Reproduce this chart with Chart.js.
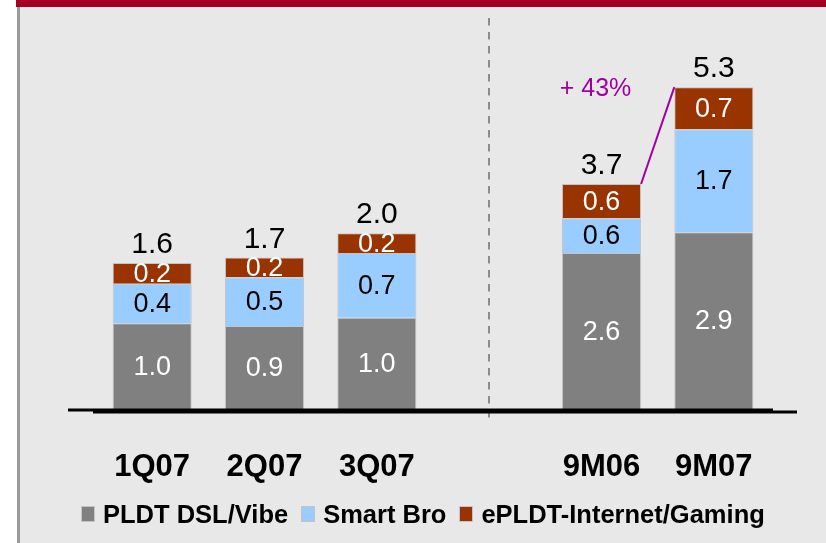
<!DOCTYPE html>
<html>
<head>
<meta charset="utf-8">
<script src="https://cdn.jsdelivr.net/npm/chart.js@4.4.0/dist/chart.umd.min.js"></script>
<style>
  html, body { margin: 0; padding: 0; background: #fff; }
  #wrap { position: relative; width: 826px; height: 543px; overflow: hidden; }
  #panel { position: absolute; left: 17px; top: 7px; right: 0; bottom: 0; background: #e8e8e8; border-left: 3px solid #9a9a9a; }
  #band { position: absolute; left: 16px; top: 0; width: 810px; height: 7px; background: #a50021; }
  #chart { position: absolute; left: 0; top: 0; }
  #legend { position: absolute; left: 81px; top: 499px; height: 30px; display: flex; align-items: center;
            font: bold 25.5px "Liberation Sans", Arial, Helvetica, sans-serif; color: #000; white-space: nowrap; }
  #legend .item { display: flex; align-items: center; margin-right: 13px; }
  #legend .box { width: 14px; height: 16px; box-sizing: border-box; border: 1px solid #c4c4c4; margin-right: 8px; }
</style>
</head>
<body>
<div id="wrap">
  <div id="panel"></div>
  <div id="band"></div>
  <canvas id="chart" width="826" height="543"></canvas>
  <div id="legend"></div>
</div>
<script>
const FONT = '"Liberation Sans", Arial, Helvetica, sans-serif';

// columns; the blank one is the gap with the dashed divider
const categories = ['1Q07', '2Q07', '3Q07', '', '9M06', '9M07'];
// quarters and 9-month columns are drawn against different scales
const columnAxis = ['yq', 'yq', 'yq', null, 'ym', 'ym'];

const seriesNames = ['PLDT DSL/Vibe', 'Smart Bro', 'ePLDT-Internet/Gaming'];
const dslVibe = [0.96, 0.93, 1.02, null, 2.57, 2.91];
const smartBro = [0.44, 0.54, 0.72, null, 0.57, 1.69];
const internetGaming = [0.23, 0.22, 0.22, null, 0.56, 0.69];

const seriesColors = ['#808080', '#99ccff', '#993300'];
const labelColors = ['#ffffff', '#000000', '#ffffff'];

const seriesValues = [dslVibe, smartBro, internetGaming];
const totals = categories.map((c, i) =>
  columnAxis[i] ? seriesValues.reduce((s, vals) => s + vals[i], 0) : null);

const datasets = [];
['yq', 'ym'].forEach(axisId => {
  seriesValues.forEach((vals, s) => {
    datasets.push({
      label: seriesNames[s],
      data: vals.map((v, i) => columnAxis[i] === axisId ? v : null),
      yAxisID: axisId,
      backgroundColor: seriesColors[s],
      borderColor: '#c4c4c4',
      borderWidth: 1,
      barPercentage: 0.704,
      categoryPercentage: 1,
      seriesIndex: s
    });
  });
});

// legend (one entry per series)
document.getElementById('legend').innerHTML = seriesNames.map((name, s) => `
  <div class="item"><span class="box" style="background:${seriesColors[s]}"></span>${name}</div>
`).join('');

// last dataset on each axis = top segment
function topMeta(chart, axisId) {
  let idx = -1;
  chart.data.datasets.forEach((ds, d) => { if (ds.yAxisID === axisId) idx = d; });
  return chart.getDatasetMeta(idx);
}

const decorPlugin = {
  id: 'decor',
  afterDatasetsDraw(chart) {
    const ctx = chart.ctx;
    const area = chart.chartArea;
    const xs = chart.scales.x;
    const base = chart.scales.yq.getPixelForValue(0);

    ctx.save();
    // dashed divider in the empty column
    const gapIdx = columnAxis.indexOf(null);
    const gx = Math.round(xs.getPixelForValue(gapIdx));
    ctx.strokeStyle = '#8c8c8c';
    ctx.lineWidth = 2;
    ctx.setLineDash([7.5, 6.5]);
    ctx.beginPath();
    ctx.moveTo(gx, area.top - 32);
    ctx.lineTo(gx, base + 8);
    ctx.stroke();
    ctx.setLineDash([]);

    // baseline (two offset strokes as in the original)
    ctx.strokeStyle = '#000';
    ctx.lineWidth = 3;
    ctx.beginPath();
    ctx.moveTo(area.left - 28, base + 0.5);
    ctx.lineTo(area.right + 3, base + 0.5);
    ctx.stroke();
    ctx.beginPath();
    ctx.moveTo(area.left - 3, base + 2.5);
    ctx.lineTo(area.right + 27, base + 2.5);
    ctx.stroke();

    // segment values
    ctx.textAlign = 'center';
    ctx.textBaseline = 'middle';
    ctx.font = '27px ' + FONT;
    chart.data.datasets.forEach((ds, d) => {
      chart.getDatasetMeta(d).data.forEach((bar, i) => {
        const v = ds.data[i];
        if (v == null) return;
        ctx.fillStyle = labelColors[ds.seriesIndex];
        ctx.fillText(v.toFixed(1), bar.x, (bar.y + bar.base) / 2 + 1);
      });
    });

    // totals
    ctx.font = '30px ' + FONT;
    ctx.fillStyle = '#000';
    ctx.textBaseline = 'alphabetic';
    categories.forEach((c, i) => {
      if (!columnAxis[i]) return;
      const bar = topMeta(chart, columnAxis[i]).data[i];
      ctx.fillText(totals[i].toFixed(1), bar.x, bar.y - 10);
    });

    // growth line 9M06 -> 9M07
    const i0 = categories.indexOf('9M06');
    const i1 = categories.indexOf('9M07');
    const m = topMeta(chart, 'ym');
    const a = m.data[i0], b = m.data[i1];
    ctx.strokeStyle = '#a000a0';
    ctx.lineWidth = 2;
    ctx.beginPath();
    ctx.moveTo(a.x + a.width / 2, a.y);
    ctx.lineTo(b.x - b.width / 2, b.y);
    ctx.stroke();
    const growth = Math.round((totals[i1] / totals[i0] - 1) * 100);
    ctx.fillStyle = '#a000a0';
    ctx.font = '25px ' + FONT;
    ctx.textBaseline = 'middle';
    ctx.fillText('+ ' + growth + '%', a.x - 6, b.y + 2);
    ctx.restore();
  }
};

new Chart(document.getElementById('chart'), {
  type: 'bar',
  data: { labels: categories, datasets: datasets },
  options: {
    responsive: false,
    animation: false,
    layout: { padding: { left: 96, right: 56, top: 50, bottom: 18.5 } },
    scales: {
      x: {
        stacked: true,
        grid: { display: false, drawTicks: false },
        border: { display: false },
        ticks: {
          color: '#000',
          padding: 33.5,
          font: { family: FONT, size: 31, weight: 'bold', lineHeight: 1.55 }
        }
      },
      yq: { stacked: true, display: false, min: 0, max: 4 },
      ym: { stacked: true, display: false, min: 0, max: 5.9 }
    },
    plugins: {
      tooltip: { enabled: false },
      legend: { display: false }
    }
  },
  plugins: [decorPlugin]
});
</script>
</body>
</html>
